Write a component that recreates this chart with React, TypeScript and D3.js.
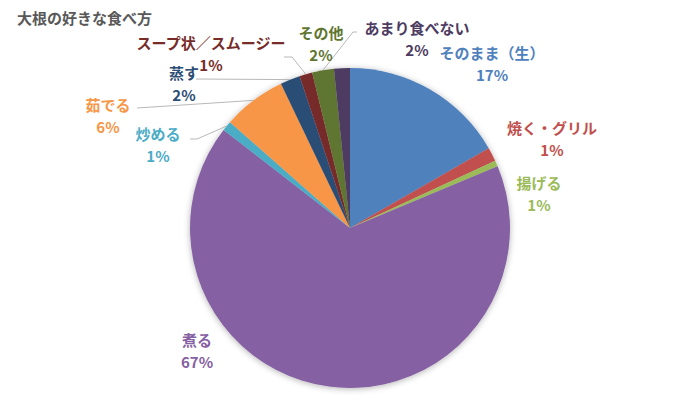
import * as d3 from "d3";

// Chart data (share of answers, %)
const categories = [
    "そのまま（生）",
    "焼く・グリル",
    "揚げる",
    "煮る",
    "炒める",
    "茹でる",
    "蒸す",
    "スープ状／スムージー",
    "その他",
    "あまり食べない",
];
const shares = [16.7, 1.4, 0.6, 66.8, 1.0, 6.4, 2.0, 1.3, 2.2, 1.6];

const palette = ["#4F81BD", "#C0504D", "#9BBB59", "#8560A2", "#4BACC6", "#F79646", "#2C4D75", "#772C2A", "#5F7530", "#4D3B62"];

// Label layout (label centre, page coordinates)
const labelSpots: [number, number][] = [
    [492, 52],
    [552, 127],
    [539, 182],
    [197, 339],
    [158, 133],
    [108, 104],
    [184, 72],
    [211, 42],
    [321, 32],
    [417, 27],
];
// leader line start (label side) + elbow direction, null = no leader
const leaders: ([number, number, number] | null)[] = [null, null, null, null, [190, 139, 7], [137, 108, 0], [196, 79, 0], [284, 57, 8], [357, 32, -4]];

const width = 700;
const height = 420;
const cx = 350;
const cy = 228;
const radius = 160;
const font = "'Noto Sans CJK JP', 'Noto Sans', sans-serif";

export default function App() {
    const pie = d3
        .pie<number>()
        .sort(null)
        .value((d) => d);
    const arcs = pie(shares);
    const arc = d3.arc<d3.PieArcDatum<number>>().innerRadius(0).outerRadius(radius);
    const total = d3.sum(shares);

    return (
        <svg width={width} height={height} style={{ position: "absolute", left: 0, top: 0, background: "#fff" }} fontFamily={font}>
            <defs>
                <filter id="shadow" x="-20%" y="-20%" width="140%" height="140%">
                    <feDropShadow dx="0" dy="1" stdDeviation="3" floodColor="#000" floodOpacity="0.3" />
                </filter>
            </defs>
            <text x={17} y={17} dominantBaseline="central" fontSize={15} fontWeight="bold" fill="#595959">
                大根の好きな食べ方
            </text>
            <g transform={`translate(${cx},${cy})`} filter="url(#shadow)">
                {arcs.map((a, i) => (
                    <path key={i} d={arc(a) ?? ""} fill={palette[i]} />
                ))}
            </g>
            {arcs.map((a, i) => {
                const ld = leaders[i];
                if (!ld) return null;
                const mid = (a.startAngle + a.endAngle) / 2;
                const px = cx + radius * Math.sin(mid);
                const py = cy - radius * Math.cos(mid);
                const pts = [
                    [ld[0], ld[1]],
                    [ld[0] + ld[2], ld[1]],
                    [px, py],
                ];
                return <polyline key={i} points={pts.map((p) => p.join(",")).join(" ")} fill="none" stroke="#a6a6a6" strokeWidth={0.8} />;
            })}
            {categories.map((c, i) => {
                const [lx, ly] = labelSpots[i];
                return (
                    <g key={c} fill={palette[i]} fontSize={15} fontWeight="bold" textAnchor="middle">
                        <text x={lx} y={ly} dominantBaseline="central">
                            {c}
                        </text>
                        <text x={lx} y={ly + 22} dominantBaseline="central">
                            {Math.round((shares[i] / total) * 100)}%
                        </text>
                    </g>
                );
            })}
        </svg>
    );
}
